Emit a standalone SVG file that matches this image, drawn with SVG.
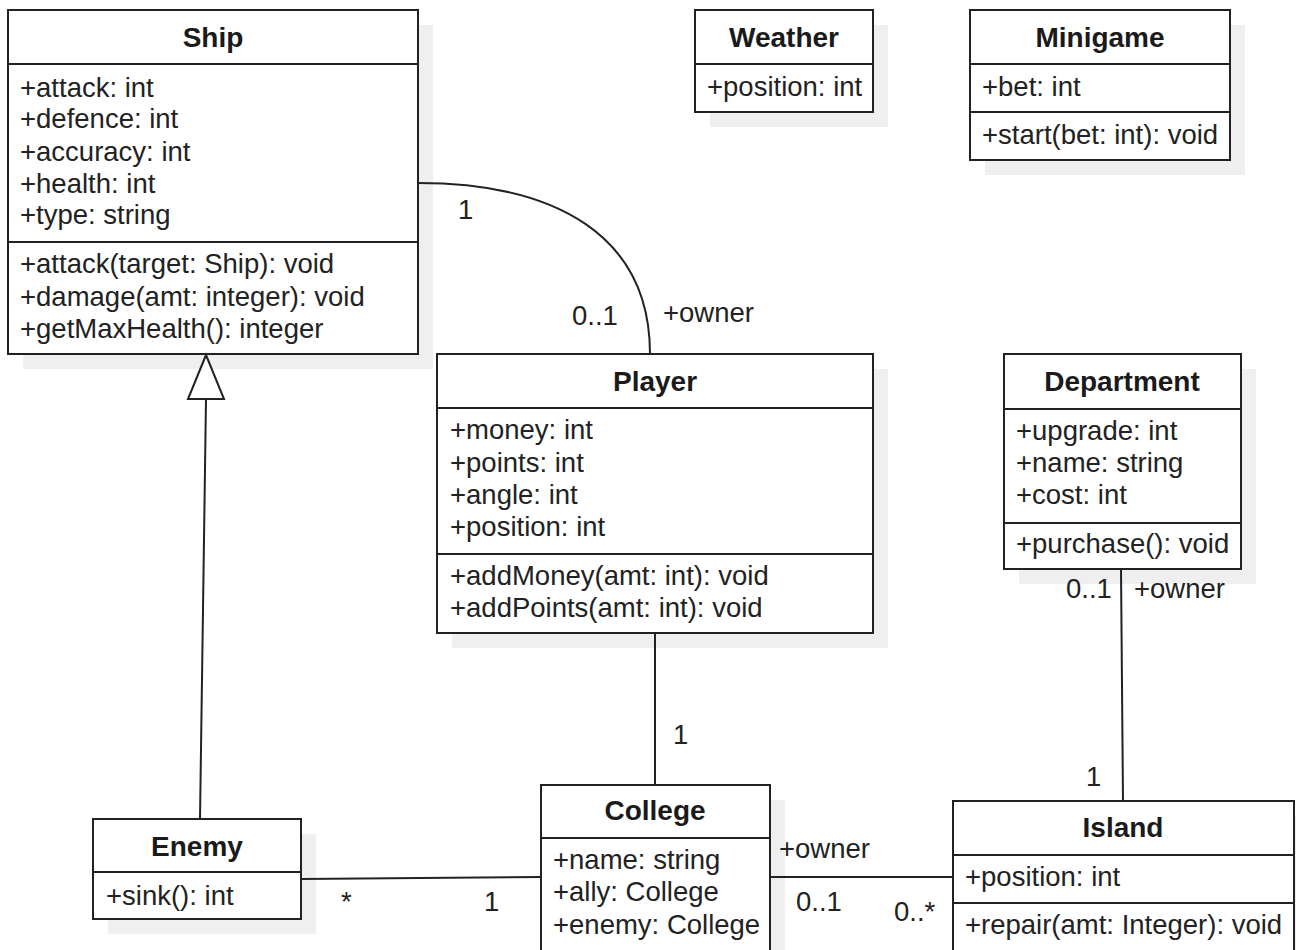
<svg xmlns="http://www.w3.org/2000/svg" width="1296" height="950" viewBox="0 0 1296 950">
<style>
.sh{fill:#efefef;stroke:none}
.bx{fill:#fff;stroke:#222;stroke-width:2}
.dv{stroke:#222;stroke-width:2}
.h{font-family:"Liberation Sans",Arial,sans-serif;font-size:28px;font-weight:bold;fill:#1a1a1a;text-anchor:middle}
.t{font-family:"Liberation Sans",Arial,sans-serif;font-size:27.5px;fill:#222}
.l{font-family:"Liberation Sans",Arial,sans-serif;font-size:27.5px;fill:#222}
.c{fill:none;stroke:#222;stroke-width:2}
</style>
<rect width="1296" height="950" fill="#fff"/>
<g id="shadows">
<rect class="sh" x="23" y="25" width="410" height="344"/>
<rect class="sh" x="710" y="25" width="178" height="102"/>
<rect class="sh" x="985" y="25" width="260" height="150"/>
<rect class="sh" x="452" y="369" width="436" height="279"/>
<rect class="sh" x="1019" y="369" width="237" height="215"/>
<rect class="sh" x="108" y="834" width="208" height="100"/>
<rect class="sh" x="556" y="800" width="229" height="170"/>
<rect class="sh" x="968" y="816" width="341" height="160"/>
</g>
<g id="ship">
<rect class="bx" x="8" y="10" width="410" height="344"/>
<line class="dv" x1="8" y1="64" x2="418" y2="64"/>
<line class="dv" x1="8" y1="242" x2="418" y2="242"/>
<text class="h" x="213" y="47">Ship</text>
<text class="t" x="20" y="97">+attack: int</text>
<text class="t" x="20" y="128">+defence: int</text>
<text class="t" x="20" y="161">+accuracy: int</text>
<text class="t" x="20" y="193">+health: int</text>
<text class="t" x="20" y="224">+type: string</text>
<text class="t" x="20" y="273">+attack(target: Ship): void</text>
<text class="t" x="20" y="306">+damage(amt: integer): void</text>
<text class="t" x="20" y="338">+getMaxHealth(): integer</text>
</g>
<g id="weather">
<rect class="bx" x="695" y="10" width="178" height="102"/>
<line class="dv" x1="695" y1="64" x2="873" y2="64"/>
<text class="h" x="784" y="47">Weather</text>
<text class="t" x="707" y="96">+position: int</text>
</g>
<g id="minigame">
<rect class="bx" x="970" y="10" width="260" height="150"/>
<line class="dv" x1="970" y1="64" x2="1230" y2="64"/>
<line class="dv" x1="970" y1="112" x2="1230" y2="112"/>
<text class="h" x="1100" y="47">Minigame</text>
<text class="t" x="982" y="96">+bet: int</text>
<text class="t" x="982" y="144">+start(bet: int): void</text>
</g>
<g id="player">
<rect class="bx" x="437" y="354" width="436" height="279"/>
<line class="dv" x1="437" y1="408" x2="873" y2="408"/>
<line class="dv" x1="437" y1="554" x2="873" y2="554"/>
<text class="h" x="655" y="391">Player</text>
<text class="t" x="450" y="439">+money: int</text>
<text class="t" x="450" y="472">+points: int</text>
<text class="t" x="450" y="504">+angle: int</text>
<text class="t" x="450" y="536">+position: int</text>
<text class="t" x="450" y="585">+addMoney(amt: int): void</text>
<text class="t" x="450" y="617">+addPoints(amt: int): void</text>
</g>
<g id="department">
<rect class="bx" x="1004" y="354" width="237" height="215"/>
<line class="dv" x1="1004" y1="409" x2="1241" y2="409"/>
<line class="dv" x1="1004" y1="523" x2="1241" y2="523"/>
<text class="h" x="1122" y="391">Department</text>
<text class="t" x="1016" y="440">+upgrade: int</text>
<text class="t" x="1016" y="472">+name: string</text>
<text class="t" x="1016" y="504">+cost: int</text>
<text class="t" x="1016" y="553">+purchase(): void</text>
</g>
<g id="enemy">
<rect class="bx" x="93" y="819" width="208" height="100"/>
<line class="dv" x1="93" y1="872" x2="301" y2="872"/>
<text class="h" x="197" y="856">Enemy</text>
<text class="t" x="106" y="905">+sink(): int</text>
</g>
<g id="college">
<rect class="bx" x="541" y="785" width="229" height="185"/>
<line class="dv" x1="541" y1="838" x2="770" y2="838"/>
<text class="h" x="655" y="820">College</text>
<text class="t" x="553" y="869">+name: string</text>
<text class="t" x="553" y="901">+ally: College</text>
<text class="t" x="553" y="934">+enemy: College</text>
</g>
<g id="island">
<rect class="bx" x="953" y="801" width="341" height="170"/>
<line class="dv" x1="953" y1="855" x2="1294" y2="855"/>
<line class="dv" x1="953" y1="903" x2="1294" y2="903"/>
<text class="h" x="1123" y="837">Island</text>
<text class="t" x="965" y="886">+position: int</text>
<text class="t" x="965" y="934">+repair(amt: Integer): void</text>
</g>
<g id="connectors">
<path class="c" d="M418,183 C555,183 650,235 650,354"/>
<path class="c" d="M206,399 L200,819"/>
<polygon points="206,355 188,399 224,399" fill="#fff" stroke="#222" stroke-width="2"/>
<path class="c" d="M655,633 L655,785"/>
<path class="c" d="M1121,569 L1123,801"/>
<path class="c" d="M301,879 L541,877"/>
<path class="c" d="M770,877 L953,877"/>
<text class="l" x="458" y="219">1</text>
<text class="l" x="572" y="325">0..1</text>
<text class="l" x="663" y="322">+owner</text>
<text class="l" x="673" y="744">1</text>
<text class="l" x="1066" y="598">0..1</text>
<text class="l" x="1134" y="598">+owner</text>
<text class="l" x="1086" y="786">1</text>
<text class="l" x="341" y="911">*</text>
<text class="l" x="484" y="911">1</text>
<text class="l" x="779" y="858">+owner</text>
<text class="l" x="796" y="911">0..1</text>
<text class="l" x="894" y="921">0..*</text>
</g>
</svg>
